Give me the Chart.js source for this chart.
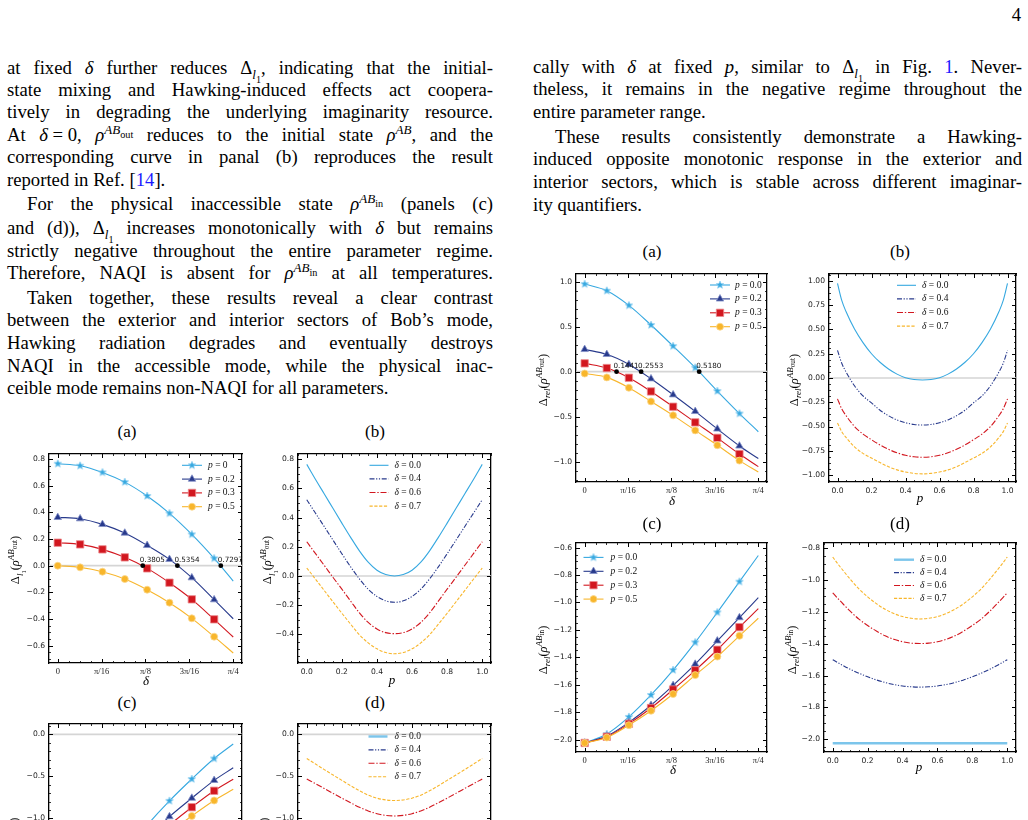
<!DOCTYPE html>
<html><head><meta charset="utf-8"><title>Figure page</title>
<script src="https://cdn.jsdelivr.net/npm/chart.js@4.4.1/dist/chart.umd.min.js"></script>
<style>
html,body{margin:0;padding:0;background:#fff;}
#page{position:relative;width:1028px;height:820px;overflow:hidden;background:#fff;color:#000;font-family:"Liberation Serif","Times New Roman",serif;}
.t{position:absolute;font-size:18.7px;line-height:22px;height:22px;text-align:justify;text-align-last:justify;}
.t.e{text-align-last:left;}
.L{left:7px;width:486px}
.R{left:533px;width:489px}
.L.ind{text-indent:20px}
.R.ind{text-indent:22px}
.t sub,.t sup{font-size:0.7em;line-height:0;}
.t sup sub,.t sub sub{font-size:0.78em;}
.bl{color:#1a1aff}
.pn{position:absolute;right:7px;top:4px;font-size:18.7px;}
.pt{position:absolute;font-size:17px;transform:translate(-50%,-50%);white-space:nowrap;}
.xt{position:absolute;font-size:13px;font-style:italic;transform:translate(-50%,-50%);}
.yt{position:absolute;font-size:12.5px;white-space:nowrap;transform:translate(-50%,-50%) rotate(-90deg);}
.yt sub,.yt sup{font-size:0.72em;line-height:0}
.yt sup sub{font-size:0.8em}
.cw{position:absolute}
#dbg{position:absolute;left:540px;top:225px;color:red;font:11px sans-serif;white-space:pre}
</style></head>
<body>
<div id="page">
<div class="pn">4</div>
<div class="t L" style="top:57px">at fixed <i>δ</i> further reduces Δ<sub><i>l</i><sub>1</sub></sub>, indicating that the initial-</div>
<div class="t L" style="top:79px">state mixing and Hawking-induced effects act coopera-</div>
<div class="t L" style="top:101px">tively in degrading the underlying imaginarity resource.</div>
<div class="t L" style="top:124px">At <i>δ</i>&#8197;=&#8197;0, <i>ρ</i><sup><i>AB</i><sub>out</sub></sup> reduces to the initial state <i>ρ</i><sup><i>AB</i></sup>, and the</div>
<div class="t L" style="top:146px">corresponding curve in panal (b) reproduces the result</div>
<div class="t L e" style="top:169px">reported in Ref. [<span class="bl">14</span>].</div>
<div class="t L ind" style="top:193px">For the physical inaccessible state <i>ρ</i><sup><i>AB</i><sub>in</sub></sup> (panels (c)</div>
<div class="t L" style="top:217px">and (d)), Δ<sub><i>l</i><sub>1</sub></sub> increases monotonically with <i>δ</i> but remains</div>
<div class="t L" style="top:240px">strictly negative throughout the entire parameter regime.</div>
<div class="t L" style="top:262px">Therefore, NAQI is absent for <i>ρ</i><sup><i>AB</i><sub>in</sub></sup> at all temperatures.</div>
<div class="t L ind" style="top:287px">Taken together, these results reveal a clear contrast</div>
<div class="t L" style="top:309px">between the exterior and interior sectors of Bob’s mode,</div>
<div class="t L" style="top:332px">Hawking radiation degrades and eventually destroys</div>
<div class="t L" style="top:355px">NAQI in the accessible mode, while the physical inac-</div>
<div class="t L e" style="top:377px">ceible mode remains non-NAQI for all parameters.</div>

<div class="t R" style="top:56px">cally with <i>δ</i> at fixed <i>p</i>, similar to Δ<sub><i>l</i><sub>1</sub></sub> in Fig. <span class="bl">1</span>. Never-</div>
<div class="t R" style="top:78px">theless, it remains in the negative regime throughout the</div>
<div class="t R e" style="top:101px">entire parameter range.</div>
<div class="t R ind" style="top:126px">These results consistently demonstrate a Hawking-</div>
<div class="t R" style="top:148px">induced opposite monotonic response in the exterior and</div>
<div class="t R" style="top:171px">interior sectors, which is stable across different imaginar-</div>
<div class="t R e" style="top:194px">ity quantifiers.</div>

<div id="charts"></div>

<div class="pt" style="left:127px;top:432px">(a)</div>
<div class="pt" style="left:375px;top:432px">(b)</div>
<div class="pt" style="left:127px;top:703px">(c)</div>
<div class="pt" style="left:375px;top:703px">(d)</div>
<div class="pt" style="left:652px;top:252px">(a)</div>
<div class="pt" style="left:900px;top:252px">(b)</div>
<div class="pt" style="left:652px;top:524px">(c)</div>
<div class="pt" style="left:900px;top:524px">(d)</div>

<div class="xt" style="left:146px;top:681px">δ</div>
<div class="xt" style="left:392px;top:680px">p</div>
<div class="xt" style="left:672px;top:501px">δ</div>
<div class="xt" style="left:920px;top:498px">p</div>
<div class="xt" style="left:673px;top:770px">δ</div>
<div class="xt" style="left:919px;top:767px">p</div>

<div class="yt" style="left:16px;top:560px">Δ<sub><i>l</i><sub>1</sub></sub>(<i>ρ</i><sup><i>AB</i><sub>out</sub></sup>)</div>
<div class="yt" style="left:268px;top:560px">Δ<sub><i>l</i><sub>1</sub></sub>(<i>ρ</i><sup><i>AB</i><sub>out</sub></sup>)</div>
<div class="yt" style="left:15px;top:840px">Δ<sub><i>l</i><sub>1</sub></sub>(<i>ρ</i><sup><i>AB</i><sub>in</sub></sup>)</div>
<div class="yt" style="left:265px;top:840px">Δ<sub><i>l</i><sub>1</sub></sub>(<i>ρ</i><sup><i>AB</i><sub>in</sub></sup>)</div>
<div class="yt" style="left:543px;top:380px">Δ<sub><i>rel</i></sub>(<i>ρ</i><sup><i>AB</i><sub>out</sub></sup>)</div>
<div class="yt" style="left:794px;top:380px">Δ<sub><i>rel</i></sub>(<i>ρ</i><sup><i>AB</i><sub>out</sub></sup>)</div>
<div class="yt" style="left:543px;top:650px">Δ<sub><i>rel</i></sub>(<i>ρ</i><sup><i>AB</i><sub>in</sub></sup>)</div>
<div class="yt" style="left:792px;top:650px">Δ<sub><i>rel</i></sub>(<i>ρ</i><sup><i>AB</i><sub>in</sub></sup>)</div>
<div id="dbg"></div>
</div>

<script>
// ---------------- data ----------------
const deltaGrid = [0, 0.1, 0.2, 0.3, 0.4, 0.5, 0.6, 0.7, Math.PI / 4];
const pGrid = [0, 0.025, 0.05, 0.1, 0.15, 0.2, 0.25, 0.3, 0.35, 0.4, 0.45, 0.5, 0.55, 0.6, 0.65, 0.7, 0.75, 0.8, 0.85, 0.9, 0.95, 0.975, 1];

const pLegendL = ['0', '0.2', '0.3', '0.5'];
const pLegendR = ['0.0', '0.2', '0.3', '0.5'];
const dLegend = ['0.0', '0.4', '0.6', '0.7'];

const deltaTicks = [0, Math.PI / 16, Math.PI / 8, 3 * Math.PI / 16, Math.PI / 4];
const deltaTickLabels = ['0', 'π/16', 'π/8', '3π/16', 'π/4'];
const pTicks = [0, 0.2, 0.4, 0.6, 0.8, 1.0];
const pTickLabels = ['0.0', '0.2', '0.4', '0.6', '0.8', '1.0'];

const yTicksLA = [-0.6, -0.4, -0.2, 0, 0.2, 0.4, 0.6, 0.8];
const yLabLA = ['−0.6', '−0.4', '−0.2', '0.0', '0.2', '0.4', '0.6', '0.8'];
const yTicksLB = [-0.4, -0.2, 0, 0.2, 0.4, 0.6, 0.8];
const yLabLB = ['−0.4', '−0.2', '0.0', '0.2', '0.4', '0.6', '0.8'];
const yTicksLC = [-2.5, -2.0, -1.5, -1.0, -0.5, 0.0];
const yLabLC = ['−2.5', '−2.0', '−1.5', '−1.0', '−0.5', '0.0'];
const yTicksRA = [-1.0, -0.5, 0, 0.5, 1.0];
const yLabRA = ['−1.0', '−0.5', '0.0', '0.5', '1.0'];
const yTicksRB = [-1, -0.75, -0.5, -0.25, 0, 0.25, 0.5, 0.75, 1];
const yLabRB = ['−1.00', '−0.75', '−0.50', '−0.25', '0.00', '0.25', '0.50', '0.75', '1.00'];
const yTicksRC = [-2.0, -1.8, -1.6, -1.4, -1.2, -1.0, -0.8, -0.6];
const yLabRC = ['−2.0', '−1.8', '−1.6', '−1.4', '−1.2', '−1.0', '−0.8', '−0.6'];
const yTicksRD = [-2.0, -1.8, -1.6, -1.4, -1.2, -1.0, -0.8];
const yLabRD = ['−2.0', '−1.8', '−1.6', '−1.4', '−1.2', '−1.0', '−0.8'];

// left (a): Delta_l1(rho_out) vs delta
const laP0 = [0.765, 0.75, 0.70, 0.627, 0.523, 0.393, 0.235, 0.055, -0.115];
const laP2 = [0.3625, 0.3525, 0.31, 0.245, 0.1525, 0.0475, -0.09, -0.255, -0.398];
const laP3 = [0.1725, 0.16, 0.1225, 0.0625, -0.02, -0.1275, -0.2525, -0.4025, -0.535];
const laP5 = [0.0, -0.0125, -0.045, -0.10, -0.18, -0.2775, -0.395, -0.5325, -0.655];
const crossLA = [0.3805, 0.5354, 0.7297];
const crossLabLA = ['0.3805', '0.5354', '0.7297'];

// left (b): Delta_l1(rho_out) vs p
const lbD0 = [0.765, 0.713, 0.661, 0.562, 0.462, 0.3625, 0.265, 0.1725, 0.095, 0.04, 0.01, 0.0, 0.01, 0.04, 0.095, 0.1725, 0.265, 0.3625, 0.462, 0.562, 0.661, 0.713, 0.765];
const lbD4 = [0.523, 0.476, 0.43, 0.338, 0.245, 0.1525, 0.063, -0.02, -0.09, -0.14, -0.17, -0.18, -0.17, -0.14, -0.09, -0.02, 0.063, 0.1525, 0.245, 0.338, 0.43, 0.476, 0.523];
const lbD6 = [0.235, 0.194, 0.153, 0.072, -0.01, -0.09, -0.172, -0.2525, -0.318, -0.363, -0.388, -0.395, -0.388, -0.363, -0.318, -0.2525, -0.172, -0.09, -0.01, 0.072, 0.153, 0.194, 0.235];
const lbD7 = [0.055, 0.017, -0.022, -0.10, -0.178, -0.255, -0.33, -0.4025, -0.458, -0.499, -0.524, -0.5325, -0.524, -0.499, -0.458, -0.4025, -0.33, -0.255, -0.178, -0.10, -0.022, 0.017, 0.055];

// left (c): Delta_l1(rho_in) vs delta
const lcP0 = [-2.45, -2.1, -1.75, -1.40, -1.08, -0.792, -0.532, -0.288, -0.115];
const lcP2 = [-2.45, -2.13, -1.8, -1.5, -1.23, -0.98, -0.76, -0.548, -0.398];
const lcP3 = [-2.45, -2.15, -1.84, -1.56, -1.31, -1.08, -0.868, -0.672, -0.535];
const lcP5 = [-2.45, -2.17, -1.88, -1.62, -1.39, -1.17, -0.972, -0.788, -0.655];

// left (d): Delta_l1(rho_in) vs p
const ldD0 = [-2.45, -2.45, -2.45, -2.45, -2.45, -2.45, -2.45, -2.45, -2.45, -2.45, -2.45, -2.45, -2.45, -2.45, -2.45, -2.45, -2.45, -2.45, -2.45, -2.45, -2.45, -2.45, -2.45];
const ldD4 = [-1.08, -1.1, -1.12, -1.157, -1.193, -1.23, -1.272, -1.31, -1.345, -1.37, -1.385, -1.39, -1.385, -1.37, -1.345, -1.31, -1.272, -1.23, -1.193, -1.157, -1.12, -1.1, -1.08];
const ldD6 = [-0.532, -0.56, -0.588, -0.645, -0.703, -0.76, -0.815, -0.868, -0.912, -0.945, -0.965, -0.972, -0.965, -0.945, -0.912, -0.868, -0.815, -0.76, -0.703, -0.645, -0.588, -0.56, -0.532];
const ldD7 = [-0.288, -0.321, -0.354, -0.42, -0.485, -0.548, -0.612, -0.672, -0.724, -0.76, -0.781, -0.788, -0.781, -0.76, -0.724, -0.672, -0.612, -0.548, -0.485, -0.42, -0.354, -0.321, -0.288];

// right (a): Delta_rel(rho_out) vs delta
const raP0 = [0.974, 0.90, 0.737, 0.519, 0.285, 0.045, -0.215, -0.465, -0.667];
const raP2 = [0.248, 0.193, 0.081, -0.078, -0.256, -0.441, -0.636, -0.825, -0.965];
const raP3 = [0.093, 0.041, -0.067, -0.219, -0.389, -0.563, -0.735, -0.915, -1.055];
const raP5 = [-0.02, -0.063, -0.178, -0.33, -0.485, -0.652, -0.817, -0.988, -1.115];
const crossRA = [0.1441, 0.2553, 0.5180];
const crossLabRA = ['0.1441', '0.2553', '0.5180'];

// right (b): Delta_rel(rho_out) vs p
const rbD0 = [0.975, 0.80, 0.685, 0.505, 0.365, 0.25, 0.162, 0.093, 0.04, 0.003, -0.016, -0.02, -0.016, 0.003, 0.04, 0.093, 0.162, 0.25, 0.365, 0.505, 0.685, 0.80, 0.975];
const rbD4 = [0.285, 0.152, 0.063, -0.08, -0.185, -0.256, -0.332, -0.389, -0.432, -0.461, -0.479, -0.485, -0.479, -0.461, -0.432, -0.389, -0.332, -0.256, -0.185, -0.08, 0.063, 0.152, 0.285];
const rbD6 = [-0.215, -0.318, -0.387, -0.50, -0.578, -0.636, -0.69, -0.735, -0.771, -0.797, -0.812, -0.817, -0.812, -0.797, -0.771, -0.735, -0.69, -0.636, -0.578, -0.50, -0.387, -0.318, -0.215];
const rbD7 = [-0.465, -0.553, -0.613, -0.71, -0.777, -0.825, -0.872, -0.915, -0.947, -0.969, -0.983, -0.988, -0.983, -0.969, -0.947, -0.915, -0.872, -0.825, -0.777, -0.71, -0.613, -0.553, -0.465];

// right (c): Delta_rel(rho_in) vs delta
const rcP0 = [-2.025, -1.96, -1.835, -1.675, -1.493, -1.291, -1.072, -0.848, -0.657];
const rcP2 = [-2.025, -1.975, -1.875, -1.75, -1.605, -1.45, -1.28, -1.11, -0.965];
const rcP3 = [-2.025, -1.98, -1.885, -1.77, -1.635, -1.495, -1.345, -1.18, -1.045];
const rcP5 = [-2.025, -1.985, -1.895, -1.79, -1.668, -1.53, -1.395, -1.243, -1.115];

// right (d): Delta_rel(rho_in) vs p
const rdD0 = [-2.025, -2.025, -2.025, -2.025, -2.025, -2.025, -2.025, -2.025, -2.025, -2.025, -2.025, -2.025, -2.025, -2.025, -2.025, -2.025, -2.025, -2.025, -2.025, -2.025, -2.025, -2.025, -2.025];
const rdD4 = [-1.50, -1.516, -1.531, -1.56, -1.585, -1.607, -1.627, -1.643, -1.656, -1.665, -1.67, -1.672, -1.67, -1.665, -1.656, -1.643, -1.627, -1.607, -1.585, -1.56, -1.531, -1.516, -1.50];
const rdD6 = [-1.08, -1.11, -1.139, -1.195, -1.245, -1.285, -1.32, -1.35, -1.372, -1.387, -1.396, -1.398, -1.396, -1.387, -1.372, -1.35, -1.32, -1.285, -1.245, -1.195, -1.139, -1.11, -1.08];
const rdD7 = [-0.855, -0.892, -0.927, -0.994, -1.055, -1.105, -1.148, -1.183, -1.21, -1.229, -1.24, -1.244, -1.24, -1.229, -1.21, -1.183, -1.148, -1.105, -1.055, -0.994, -0.927, -0.892, -0.855];

// ---------------- styling ----------------
const COL = { cyan: '#36A8E0', navy: '#283A8C', red: '#D2171F', gold: '#F8B62C' };
const EDGE = { cyan: '#8ccff0', navy: '#8490c8', red: '#ec8a8e', gold: '#fbd88e' };

function starImage(fill, edge, r) {
  const s = Math.ceil(2 * r + 2);
  const c = document.createElement('canvas');
  c.width = s; c.height = s;
  const g = c.getContext('2d');
  g.translate(s / 2, s / 2);
  g.beginPath();
  for (let k = 0; k < 10; k++) {
    const a = -Math.PI / 2 + k * Math.PI / 5;
    const rr = k % 2 === 0 ? r : r * 0.45;
    g.lineTo(rr * Math.cos(a), rr * Math.sin(a));
  }
  g.closePath();
  g.fillStyle = fill; g.fill();
  g.strokeStyle = edge; g.lineWidth = 0.7; g.stroke();
  return c;
}
const STAR = starImage(COL.cyan, EDGE.cyan, 4.0);

function markerSet(val, ys, key, style, r, order) {
  return {
    legendVar: 'p', legendVal: val, legendRadius: r,
    data: deltaGrid.map((x, i) => ({ x: x, y: ys[i] })),
    borderColor: COL[key], backgroundColor: COL[key],
    pointBackgroundColor: COL[key], pointBorderColor: EDGE[key], pointBorderWidth: 0.8,
    borderWidth: 1.1, pointStyle: style,
    pointRadius: (c) => (c.dataIndex < deltaGrid.length - 1 ? r : 0),
    cubicInterpolationMode: 'monotone', fill: false, order: order
  };
}
function curveSet(val, ys, color, dash, width, order) {
  return {
    legendVar: 'δ', legendVal: val,
    data: pGrid.map((x, i) => ({ x: x, y: ys[i] })),
    borderColor: color, backgroundColor: color, borderWidth: width, borderDash: dash,
    pointRadius: 0, cubicInterpolationMode: 'monotone', fill: false, order: order
  };
}
function crossSet(xs) {
  return {
    data: xs.map((x) => ({ x: x, y: 0 })),
    showLine: false, pointRadius: 2.4, pointBackgroundColor: '#000', pointBorderColor: '#000',
    pointBorderWidth: 0, pointStyle: 'circle', order: -10
  };
}
const DASH4 = [5, 1.6, 1.2, 1.6, 1.2, 1.6];
const DASH6 = [6, 1.8, 1.4, 1.8];
const DASH7 = [3.2, 1.6];

function deltaSets(vals, a, b, c, d) {
  return [
    markerSet(vals[0], a, 'cyan', STAR, 4.0, 0),
    markerSet(vals[1], b, 'navy', 'triangle', 4.3, -1),
    markerSet(vals[2], c, 'red', 'rect', 5.2, -2),
    markerSet(vals[3], d, 'gold', 'circle', 3.5, -3)
  ];
}
function pSets(a, b, c, d, thick) {
  return [
    thick ? curveSet(dLegend[0], a, 'rgba(80,178,228,0.75)', [], 2.4, 0)
          : curveSet(dLegend[0], a, COL.cyan, [], 1.1, 0),
    curveSet(dLegend[1], b, COL.navy, DASH4, 1.1, -1),
    curveSet(dLegend[2], c, COL.red, DASH6, 1.1, -2),
    curveSet(dLegend[3], d, COL.gold, DASH7, 1.1, -3)
  ];
}

// ---------------- decoration plugin ----------------
function minorList(min, max, step) {
  const out = [];
  if (!(step > 0)) return out;
  for (let k = Math.ceil(min / step - 1e-9); k * step <= max + 1e-9; k++) out.push(k * step);
  return out;
}
function dbg(msg) { document.getElementById('dbg').textContent += msg + '\n'; }

function drawTicks(chart, o) {
  const ctx = chart.ctx, ca = chart.chartArea, xs = chart.scales.x, ys = chart.scales.y;
  ctx.save();
  ctx.setLineDash([]);
  ctx.globalAlpha = 1;
  ctx.globalCompositeOperation = 'source-over';
  ctx.strokeStyle = '#000000';
  const L = Math.round(ca.left), R = Math.round(ca.right), T = Math.round(ca.top), B = Math.round(ca.bottom);
  const seg = (x1, y1, x2, y2) => { ctx.beginPath(); ctx.moveTo(x1, y1); ctx.lineTo(x2, y2); ctx.stroke(); };
  const majX = xs.ticks.map((t) => t.value), majY = ys.ticks.map((t) => t.value);
  ctx.lineWidth = 1;
  majX.forEach((v) => { const px = Math.round(xs.getPixelForValue(v)) + 0.5; seg(px, B, px, B - 4); seg(px, T, px, T + 4); });
  majY.forEach((v) => { const py = Math.round(ys.getPixelForValue(v)) + 0.5; seg(L, py, L + 4, py); seg(R, py, R - 4, py); });
  ctx.lineWidth = 0.8;
  minorList(xs.min, xs.max, o.xMinor).forEach((v) => {
    if (majX.some((m) => Math.abs(m - v) < 1e-6)) return;
    const px = Math.round(xs.getPixelForValue(v)) + 0.5; seg(px, B, px, B - 2); seg(px, T, px, T + 2);
  });
  minorList(ys.min, ys.max, o.yMinor).forEach((v) => {
    if (majY.some((m) => Math.abs(m - v) < 1e-6)) return;
    const py = Math.round(ys.getPixelForValue(v)) + 0.5; seg(L, py, L + 2, py); seg(R, py, R - 2, py);
  });
  ctx.restore();
}

function drawLegend(chart, Lg) {
  const ctx = chart.ctx, ca = chart.chartArea;
  const items = chart.data.datasets.filter((d) => d.legendVal !== undefined);
  items.forEach((d, i) => {
    const y = ca.top + Lg.y0 + i * Lg.dy;
    const x0 = ca.left + Lg.x0, x1 = x0 + Lg.len;
    ctx.save();
    ctx.strokeStyle = d.borderColor; ctx.lineWidth = d.borderWidth;
    ctx.setLineDash(d.borderDash || []);
    ctx.beginPath(); ctx.moveTo(x0, y); ctx.lineTo(x1, y); ctx.stroke();
    ctx.setLineDash([]);
    if (d.legendRadius) {
      ctx.fillStyle = d.pointBackgroundColor; ctx.strokeStyle = d.pointBorderColor; ctx.lineWidth = d.pointBorderWidth;
      Chart.helpers.drawPoint(ctx, { pointStyle: d.pointStyle, radius: d.legendRadius, rotation: 0, borderWidth: d.pointBorderWidth }, (x0 + x1) / 2, y);
    }
    ctx.fillStyle = '#111'; ctx.textBaseline = 'middle'; ctx.textAlign = 'left';
    const tx = x1 + Lg.gap;
    ctx.font = 'italic 9.5px "Liberation Serif"';
    ctx.fillText(d.legendVar, tx, y);
    const w = ctx.measureText(d.legendVar).width;
    ctx.font = '9.5px "Liberation Serif"';
    ctx.fillText(' = ' + d.legendVal, tx + w, y);
    ctx.restore();
  });
}

const deco = {
  id: 'deco',
  beforeDatasetsDraw(chart, args, o) {
    try {
      if (!o.zero) return;
      const ys = chart.scales.y, ca = chart.chartArea, ctx = chart.ctx;
      const y = ys.getPixelForValue(0);
      if (y < ca.top || y > ca.bottom) return;
      ctx.save();
      ctx.strokeStyle = '#d5d5d5'; ctx.lineWidth = 1.7;
      ctx.beginPath(); ctx.moveTo(ca.left, y); ctx.lineTo(ca.right, y); ctx.stroke();
      ctx.restore();
    } catch (e) { dbg('zero: ' + e.message); }
  },
  afterDatasetsDraw(chart, args, o) {
    try {
      if (o.crossX) {
        const ctx = chart.ctx, xs = chart.scales.x, ys = chart.scales.y;
        ctx.save();
        ctx.font = '7.2px "DejaVu Sans"'; ctx.fillStyle = '#111';
        ctx.textAlign = 'left'; ctx.textBaseline = 'middle';
        o.crossX.forEach((v, i) => {
          ctx.fillText(o.crossLab[i], xs.getPixelForValue(v) - 3, ys.getPixelForValue(0) - 6);
        });
        ctx.restore();
      }
    } catch (e) { dbg('cross: ' + e.message); }
    try { drawTicks(chart, o); } catch (e) { dbg('ticks: ' + e.message); }
  },
  afterDraw(chart, args, o) {
    try { if (o.legend) drawLegend(chart, o.legend); } catch (e) { dbg('legend: ' + e.message); }
  }
};
Chart.register(deco);

// ---------------- panel factory ----------------
const PADL = 46, PADR = 10, PADT = 10, PADB = 30;
const TICKFONT = { family: 'DejaVu Sans', size: 7.6 };
const DTICKFONT = { family: 'Liberation Serif', size: 8.5 };
const BORDER = { display: true, color: '#000', width: 1.3 };

function panel(fr, xr, yr, datasets, decoOpts) {
  const W = fr.w + PADL + PADR, H = fr.h + PADT + PADB;
  const div = document.createElement('div');
  div.className = 'cw';
  div.style.left = (fr.l - PADL) + 'px'; div.style.top = (fr.t - PADT) + 'px';
  div.style.width = W + 'px'; div.style.height = H + 'px';
  const cv = document.createElement('canvas');
  cv.width = W; cv.height = H; cv.style.width = W + 'px'; cv.style.height = H + 'px';
  div.appendChild(cv);
  document.getElementById('charts').appendChild(div);
  new Chart(cv, {
    type: 'line',
    data: { datasets: datasets },
    options: {
      responsive: false, animation: false, devicePixelRatio: 1,
      layout: { padding: { left: 0, right: PADR, top: PADT, bottom: 0 } },
      plugins: { legend: { display: false }, tooltip: { enabled: false }, deco: decoOpts },
      scales: {
        x: {
          type: 'linear', position: 'bottom', min: xr.min, max: xr.max,
          afterBuildTicks: (a) => { a.ticks = xr.ticks.map((v) => ({ value: v })); },
          afterFit: (s) => { s.height = PADB; },
          grid: { display: false, drawTicks: false }, border: BORDER,
          ticks: { autoSkip: false, maxRotation: 0, padding: 4, color: '#222', font: xr.font,
                   callback: (v, i) => xr.labels[i] }
        },
        y: {
          type: 'linear', position: 'left', min: yr.min, max: yr.max,
          afterBuildTicks: (a) => { a.ticks = yr.ticks.map((v) => ({ value: v })); },
          afterFit: (s) => { s.width = PADL; },
          grid: { display: false, drawTicks: false }, border: BORDER,
          ticks: { autoSkip: false, padding: 4, color: '#222', font: TICKFONT,
                   callback: (v, i) => yr.labels[i] }
        },
        xTop: {
          type: 'linear', position: 'top', axis: 'x', min: xr.min, max: xr.max,
          afterFit: (s) => { s.height = 0; },
          grid: { display: false, drawTicks: false }, border: BORDER,
          ticks: { display: false }
        },
        yRight: {
          type: 'linear', position: 'right', axis: 'y', min: yr.min, max: yr.max,
          afterFit: (s) => { s.width = 0; },
          grid: { display: false, drawTicks: false }, border: BORDER,
          ticks: { display: false }
        }
      }
    }
  });
}

const XD = { min: -0.03927, max: 0.82467, ticks: deltaTicks, labels: deltaTickLabels, font: DTICKFONT };
const XP = { min: -0.05, max: 1.05, ticks: pTicks, labels: pTickLabels, font: TICKFONT };
const DMIN = Math.PI / 64;

panel({ l: 49, t: 454, w: 193, h: 209 }, XD,
  { min: -0.730, max: 0.838, ticks: yTicksLA, labels: yLabLA },
  deltaSets(pLegendL, laP0, laP2, laP3, laP5).concat([crossSet(crossLA)]),
  { zero: true, xMinor: DMIN, yMinor: 0.05, crossX: crossLA, crossLab: crossLabLA,
    legend: { x0: 133, y0: 11.3, dy: 13.8, len: 20, gap: 6 } });
panel({ l: 298, t: 454, w: 193, h: 209 }, XP,
  { min: -0.596, max: 0.836, ticks: yTicksLB, labels: yLabLB },
  pSets(lbD0, lbD4, lbD6, lbD7, false),
  { zero: true, xMinor: 0.05, yMinor: 0.05, legend: { x0: 71.5, y0: 11.3, dy: 13.6, len: 19, gap: 6 } });
panel({ l: 49, t: 724, w: 193, h: 226 }, XD,
  { min: -2.568, max: 0.123, ticks: yTicksLC, labels: yLabLC },
  deltaSets(pLegendL, lcP0, lcP2, lcP3, lcP5),
  { zero: true, xMinor: DMIN, yMinor: 0.1 });
panel({ l: 298, t: 724, w: 193, h: 226 }, XP,
  { min: -2.568, max: 0.123, ticks: yTicksLC, labels: yLabLC },
  pSets(ldD0, ldD4, ldD6, ldD7, true),
  { zero: true, xMinor: 0.05, yMinor: 0.1, legend: { x0: 70.5, y0: 12.5, dy: 13.4, len: 19, gap: 7 } });
panel({ l: 576, t: 274, w: 191, h: 208 }, XD,
  { min: -1.2256, max: 1.086, ticks: yTicksRA, labels: yLabRA },
  deltaSets(pLegendR, raP0, raP2, raP3, raP5).concat([crossSet(crossRA)]),
  { zero: true, xMinor: DMIN, yMinor: 0.1, crossX: crossRA, crossLab: crossLabRA,
    legend: { x0: 134, y0: 11, dy: 13.9, len: 20, gap: 5 } });
panel({ l: 829, t: 274, w: 187, h: 208 }, XP,
  { min: -1.072, max: 1.072, ticks: yTicksRB, labels: yLabRB },
  pSets(rbD0, rbD4, rbD6, rbD7, false),
  { zero: true, xMinor: 0.05, yMinor: 0.0625, legend: { x0: 68, y0: 11.3, dy: 13.6, len: 19, gap: 6 } });
panel({ l: 576, t: 543, w: 191, h: 209 }, XD,
  { min: -2.091, max: -0.566, ticks: yTicksRC, labels: yLabRC },
  deltaSets(pLegendR, rcP0, rcP2, rcP3, rcP5),
  { zero: true, xMinor: DMIN, yMinor: 0.05, legend: { x0: 7.5, y0: 14.4, dy: 13.9, len: 20, gap: 7 } });
panel({ l: 824, t: 543, w: 192, h: 209 }, XP,
  { min: -2.0795, max: -0.767, ticks: yTicksRD, labels: yLabRD },
  pSets(rdD0, rdD4, rdD6, rdD7, true),
  { zero: true, xMinor: 0.05, yMinor: 0.05, legend: { x0: 70, y0: 16.7, dy: 12.9, len: 20, gap: 6 } });
</script>
</body></html>
